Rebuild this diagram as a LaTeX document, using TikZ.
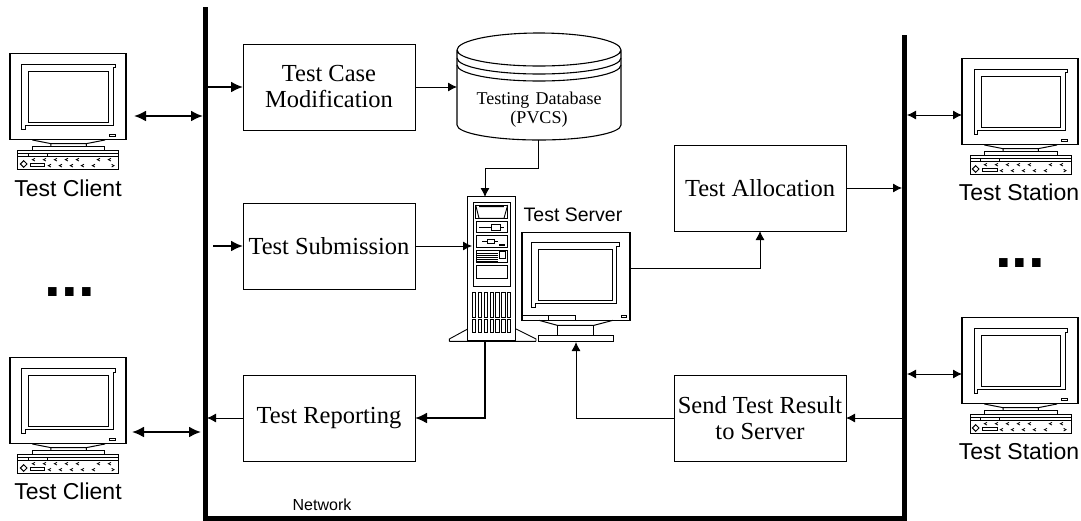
\documentclass[tikz,border=0pt]{standalone}
\usepackage{fontspec}
\setmainfont{Liberation Serif}
\newfontfamily\labelfont{Liberation Sans}
\usetikzlibrary{arrows.meta,calc}
\newcommand{\computer}[4]{% name, shift x, shift y, unused
\begin{scope}[shift={(#2,#3)},x=0.3333pt,y=-0.3333pt,line width=1pt]
 \node[draw,line width=1.2pt,minimum width=116pt,minimum height=86pt,inner sep=0,outer sep=0,anchor=north west] (#1) at (30,70) {};
 \draw (66,298) -- (66,102) -- (347,102) -- (347,114) -- (340,114) -- (340,288) -- (76,288) -- (76,298) -- cycle;
 \draw (87,125) rectangle (326,277);
 \draw (97,330) -- (153,341) -- (153,350) (259,350) -- (259,341) -- (315,330) (153,341) -- (259,341);
 \draw (97,350) rectangle (315,362);
 \draw (54,362) rectangle (357,418);
 \draw (54,372) -- (357,372) (54,380) -- (357,380);
 \fill[white,draw=black] (85,372) rectangle (143,381);
 \draw (91,400) rectangle (135,410);
 \draw (71,392) -- (81,402) -- (71,412) -- (61,402) -- cycle;
 \foreach \k in {0,...,4} {
   \draw[line width=.8pt] ({105+\k*33},385) -- ({97+\k*33},389) -- ({105+\k*33},393);
   \draw[line width=.8pt] ({153+\k*33},403) -- ({145+\k*33},407) -- ({153+\k*33},411);
 }
 \draw[line width=.8pt] (300,385) -- (292,389) -- (300,393) (333,385) -- (325,389) -- (333,393) (335,403) -- (342,407) -- (335,411);
 \draw (329,315) rectangle (347,321);
\end{scope}}
\tikzset{
 x=1pt,y=-1pt,
 procbox/.style={draw,line width=1pt,minimum width=172pt,minimum height=86pt,inner sep=0,outer sep=0,align=center,font=\fontsize{24.5}{26}\selectfont},
 captxt/.style={font=\labelfont\fontsize{23}{26}\selectfont,inner sep=0},
 srvcap/.style={font=\labelfont\fontsize{19.5}{22}\selectfont,inner sep=0},
 dotrow/.style={font=\labelfont\bfseries\fontsize{60}{60}\selectfont,inner sep=0,anchor=base},
 linkthin/.style={line width=.9pt,-{Latex[length=9pt,width=9pt]}},
 linkthick/.style={line width=2.1pt,-{Latex[length=12pt,width=11pt]}},
 twothin/.style={line width=.9pt,{Latex[length=9pt,width=9pt]}-{Latex[length=9pt,width=9pt]}},
 twothick/.style={line width=2.1pt,{Latex[length=12pt,width=11pt]}-{Latex[length=12pt,width=11pt]}},
}
\begin{document}
\begin{tikzpicture}
\useasboundingbox[fill=white] (0,0) rectangle (1081,520);
% network
\coordinate (nw) at (205,7);
\coordinate (sw) at (205,518);
\coordinate (se) at (904,518);
\coordinate (ne) at (904,35);
% boxes
\node[procbox,anchor=north west] (case) at (243,44) {Test Case\\Modification};
\node[procbox,anchor=north west] (subm) at (243,203) {Test Submission};
\node[procbox,anchor=north west] (repo) at (243,375) {\raisebox{-1.5pt}{Test Reporting}};
\node[procbox,anchor=north west] (allo) at (674,145) {Test Allocation};
\node[procbox,anchor=north west] (send) at (674,375) {\raisebox{1pt}{Send Test Result}\\\raisebox{1pt}{to Server}};
% computers
\computer{cl1}{0}{30}{}
\computer{cl2}{0}{334}{}
\computer{st1}{952}{35}{}
\computer{st2}{952}{294}{}
\node[captxt] (cl1t) at (68,188) {Test Client};
\node[captxt] (cl2t) at (68,491) {Test Client};
\node[captxt] (st1t) at (1019,192) {Test Station};
\node[captxt] (st2t) at (1019,451) {Test Station};
\node[dotrow] (d1) at (70,296) {...};
\node[dotrow] (d2) at (1020,267) {...};
\node[inner sep=0,font=\labelfont\fontsize{16}{18}\selectfont] (nett) at (322,505) {Network};
% database
\draw[line width=1.1pt] (457,50) arc[start angle=180,end angle=0,x radius=82,y radius=16] arc[start angle=0,end angle=-180,x radius=82,y radius=17] -- (457,125)
  arc[start angle=180,end angle=0,x radius=82,y radius=15] -- (621,50);
\draw[line width=1.1pt] (457,58) arc[start angle=180,end angle=0,x radius=82,y radius=16];
\draw[line width=1.1pt] (457,65) arc[start angle=180,end angle=0,x radius=82,y radius=16];
\node[inner sep=0,align=center,font=\fontsize{18}{19}\selectfont] (db) at (539,110) {Testing\hspace{.35em}Database\\(PVCS)};
\coordinate (dbw) at (457,87);
\coordinate (dbs) at (538,140);
% server tower
\begin{scope}[shift={(430,180)},x=0.3333pt,y=-0.3333pt,line width=.9pt]
 \node[draw,line width=1.2pt,minimum width=48pt,minimum height=144pt,inner sep=0,outer sep=0,anchor=north west] (tower) at (113,50) {};
 \draw (58,484) -- (318,484) (58,484) -- (58,477) -- (113,447) (318,484) -- (318,477) -- (258,447);
 \draw (130,68) rectangle (240,320);
 \draw (137,75) rectangle (233,115);
 \draw (137,75) -- (147,115) -- (222,115) -- (233,75) (147,80) -- (222,80);
 \draw (139,123) rectangle (231,158);
 \draw (147,141) -- (222,141); \fill[white,draw=black] (184,133) rectangle (212,150);
 \draw (139,167) rectangle (231,203);
 \draw (157,185) -- (205,185); \fill[white,draw=black] (172,179) rectangle (192,191);
 \fill (207,191) rectangle (226,197);
 \draw (139,212) rectangle (231,248);
 \foreach \yy in {220,226,232,238,244} \draw[line width=.6pt] (139,\yy) -- (205,\yy);
 \draw (207,215) rectangle (226,234);
 \draw (139,256) rectangle (231,296);
 \foreach \xx in {127,145,162,180,197,215,232} {
   \draw (\xx,338) rectangle ++(10,73);
   \draw (\xx,418) rectangle ++(10,38);
 }
\end{scope}
% server monitor
\begin{scope}[shift={(430,180)},x=0.3333pt,y=-0.3333pt,line width=1pt]
 \node[draw,line width=1.2pt,minimum width=108pt,minimum height=88pt,inner sep=0,outer sep=0,anchor=north west] (srvmon) at (276,157) {};
 \draw (305,382) -- (305,188) -- (570,188) -- (570,200) -- (560,200) -- (560,371) -- (316,371) -- (316,382) -- cycle;
 \draw (326,209) rectangle (549,361);
 \draw (276,406) -- (437,406) (356,406) -- (356,421) (437,406) -- (437,421);
 \draw (575,406) rectangle (590,413);
 \draw (327,421) -- (382,436) -- (492,436) -- (549,421);
 \draw (382,436) -- (382,466) (492,436) -- (492,466);
 \node[draw,line width=1.2pt,minimum width=75pt,minimum height=6pt,inner sep=0,outer sep=0,anchor=north west] (srvbase) at (325,466) {};
\end{scope}
\node[srvcap] (srvt) at (573,215) {Test Server};
% connector ends
\coordinate (c1a) at (134,116);
\coordinate (c1b) at (203,116);
\coordinate (c2a) at (132,432);
\coordinate (c2b) at (201,432);
\coordinate (s1a) at (907,115);
\coordinate (s1b) at (962,115);
\coordinate (s2a) at (907,374);
\coordinate (s2b) at (962,374);
\coordinate (subin) at (213,246);
\coordinate (towl) at (472,246);
\coordinate (towt) at (485,197);
\coordinate (towb) at (485,341);
\coordinate (monr) at (630,268);
\coordinate (alb) at (760,231);
\coordinate (baseb) at (576,342);
% connectors
\draw[twothick] (c1a) -- (c1b);
\draw[twothick] (c2a) -- (c2b);
\draw[twothin] (s1a) -- (s1b);
\draw[twothin] (s2a) -- (s2b);
\draw[linkthick] (case.west -| nw) -- (case.west);
\draw[linkthick] (subin) -- (subin -| subm.west);
\draw[linkthin] (repo.west) -- ($(repo.west -| nw)+(2,0)$);
\draw[linkthin] (case.east) -- (dbw);
\draw[linkthin] (dbs) -- (538,168) -- (485,168) -- (towt);
\draw[linkthin] (subm.east) -- (towl);
\draw[linkthick] (towb) -- (485,418) -- (repo.east);
\draw[linkthin] (monr) -- (alb |- monr) -- (alb);
\draw[linkthin] (allo.east) -- ($(allo.east -| ne)+(-2,0)$);
\draw[linkthin] (send.west) -- (baseb |- send.west) -- (baseb);
\draw[linkthin] ($(send.east -| ne)+(-2,0)$) -- (send.east);
\draw[line width=5pt,line cap=butt,line join=miter] (nw) -- (sw) -- (se) -- (ne);
\end{tikzpicture}
\end{document}
